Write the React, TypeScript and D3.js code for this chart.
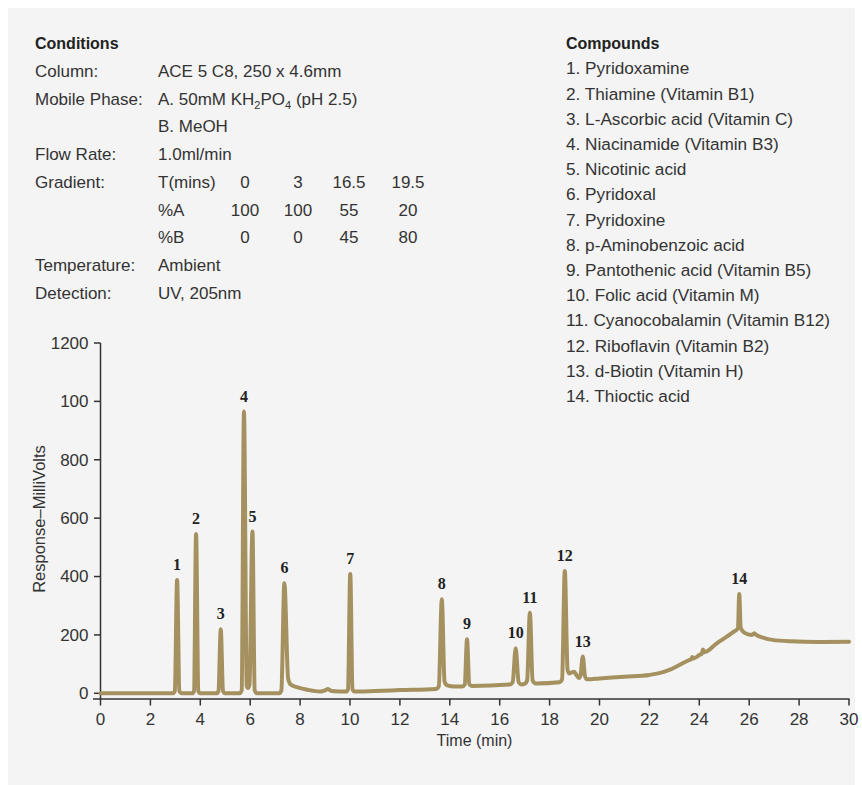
import React from "react";
import * as d3 from "d3";

const conditionLabels = ["Column:", "Mobile Phase:", "", "Flow Rate:", "Gradient:", "", "", "Temperature:", "Detection:"];
const conditionValues = ["ACE 5 C8, 250 x 4.6mm", "MOBILE", "B. MeOH", "1.0ml/min", "T(mins)", "%A", "%B", "Ambient", "UV, 205nm"];
const gradientTimes = ["0", "3", "16.5", "19.5"];
const gradientA = ["100", "100", "55", "20"];
const gradientB = ["0", "0", "45", "80"];

const compoundNames = [
  "1. Pyridoxamine",
  "2. Thiamine (Vitamin B1)",
  "3. L-Ascorbic acid (Vitamin C)",
  "4. Niacinamide (Vitamin B3)",
  "5. Nicotinic acid",
  "6. Pyridoxal",
  "7. Pyridoxine",
  "8. p-Aminobenzoic acid",
  "9. Pantothenic acid (Vitamin B5)",
  "10. Folic acid (Vitamin M)",
  "11. Cyanocobalamin (Vitamin B12)",
  "12. Riboflavin (Vitamin B2)",
  "13. d-Biotin (Vitamin H)",
  "14. Thioctic acid",
];

const peakNumbers = ["1", "2", "3", "4", "5", "6", "7", "8", "9", "10", "11", "12", "13", "14"];
const peakTimes = [3.07, 3.83, 4.82, 5.75, 6.09, 7.37, 10.01, 13.68, 14.69, 16.64, 17.21, 18.61, 19.33, 25.6];
const peakHeights = [388, 546, 219, 965, 554, 377, 409, 322, 185, 154, 276, 419, 126, 340];

const traceTimes = [
  0, 2.9, 2.98, 3.07, 3.16, 3.25,
  3.68, 3.75, 3.83, 3.92, 4.0,
  4.66, 4.73, 4.82, 4.91, 4.99,
  5.58, 5.66, 5.75, 5.86, 5.91, 5.97, 6.09, 6.18, 6.26,
  7.17, 7.25, 7.37, 7.52, 7.62, 7.9, 8.3, 8.8, 9.0, 9.12, 9.25,
  9.85, 9.92, 10.01, 10.1, 10.18, 11.0, 12.0,
  13.45, 13.56, 13.68, 13.79, 13.9, 14.2, 14.5,
  14.6, 14.69, 14.78, 14.88, 16.4,
  16.52, 16.64, 16.76, 16.88, 17.0, 17.1, 17.21, 17.32, 17.45, 18.4,
  18.5, 18.61, 18.72, 18.78, 18.9, 18.98, 19.08, 19.17, 19.24, 19.33, 19.42, 19.5,
  20.0, 21.0, 22.0, 22.4, 22.8, 23.2, 23.6, 23.68, 23.72, 23.76, 24.0, 24.1, 24.15, 24.2,
  24.7, 25.1, 25.4, 25.55, 25.6, 25.66, 25.8, 26.1, 26.2, 26.3, 26.55, 26.93, 27.7, 28.7, 30,
];
const traceValues = [
  0, 0, 8, 388, 8, 0,
  0, 8, 546, 8, 0,
  0, 8, 219, 8, 0,
  0, 10, 965, 25, 18, 30, 554, 10, 0,
  0, 10, 377, 50, 30, 20, 12, 6, 10, 15, 8,
  6, 14, 409, 14, 6, 8, 11,
  15, 24, 322, 40, 27, 23, 23,
  30, 185, 32, 25, 30,
  38, 154, 38, 30, 32, 44, 276, 44, 34, 38,
  48, 419, 80, 68, 72, 74, 62, 52, 62, 126, 58, 48,
  51, 57, 63, 69, 80, 97, 114, 117, 124, 119, 131, 136, 150, 141,
  171, 194, 212, 222, 340, 224, 208, 200, 206, 199, 191, 183, 178, 176, 177,
];

const xTicks = [0, 2, 4, 6, 8, 10, 12, 14, 16, 18, 20, 22, 24, 26, 28, 30];
const yTicks = [0, 200, 400, 600, 800, 1000, 1200];
const yTickLabels = ["0", "200", "400", "600", "800", "100", "1200"];

const TEXT = "#333333";
const LINE = "#a5915f";
const SANS = "'Liberation Sans', Arial, sans-serif";

export default function App() {
  const x = d3.scaleLinear().domain([0, 30]).range([100.5, 849]);
  const y = d3.scaleLinear().domain([0, 1200]).range([693.3, 343]);
  const axisY = 699;

  const pts: [number, number][] = traceTimes.map((t, i) => [t, traceValues[i]]);
  const line = d3
    .line<[number, number]>()
    .x((d) => x(d[0]))
    .y((d) => y(d[1]))
    .curve(d3.curveMonotoneX);

  const rowY = (i: number) => 77 + 27.7 * i;
  const gradCols = [245, 298, 349, 408];

  return (
    <svg
      width={862}
      height={785}
      style={{ position: "absolute", left: 0, top: 0 }}
      fontFamily={SANS}
    >
      <rect x={8} y={8} width={847} height={777} fill="#f3f4f3" />

      {/* Conditions */}
      <text x={35} y={49} fontSize={16} fontWeight="bold" fill="#222">Conditions</text>
      {conditionLabels.map((l, i) => (
        <text key={"cl" + i} x={35} y={rowY(i)} fontSize={17} fill={TEXT}>{l}</text>
      ))}
      {conditionValues.map((v, i) =>
        v === "MOBILE" ? (
          <text key={"cv" + i} x={158} y={rowY(i)} fontSize={17} fill={TEXT}>
            A. 50mM KH<tspan fontSize={11} dy={4}>2</tspan>
            <tspan dy={-4}>PO</tspan>
            <tspan fontSize={11} dy={4}>4</tspan>
            <tspan dy={-4}> (pH 2.5)</tspan>
          </text>
        ) : (
          <text key={"cv" + i} x={158} y={rowY(i)} fontSize={17} fill={TEXT}>{v}</text>
        )
      )}
      {[gradientTimes, gradientA, gradientB].map((row, r) =>
        row.map((v, c) => (
          <text key={"g" + r + c} x={gradCols[c]} y={rowY(4 + r)} fontSize={17} fill={TEXT} textAnchor="middle">
            {v}
          </text>
        ))
      )}

      {/* Compounds */}
      <text x={566} y={49} fontSize={16} fontWeight="bold" fill="#222">Compounds</text>
      {compoundNames.map((c, i) => (
        <text key={"c" + i} x={566} y={74.3 + 25.2 * i} fontSize={17.2} fill={TEXT}>{c}</text>
      ))}

      {/* Axes */}
      <line x1={100.5} x2={100.5} y1={343} y2={axisY} stroke="#333" strokeWidth={1.5} />
      <line x1={93} x2={849.5} y1={axisY} y2={axisY} stroke="#333" strokeWidth={1.5} />
      {yTicks.map((t, i) => (
        <g key={"yt" + i}>
          <line x1={94} x2={100.5} y1={y(t)} y2={y(t)} stroke="#333" strokeWidth={1.5} />
          <text x={88.5} y={y(t)} dy="0.35em" fontSize={17} fill={TEXT} textAnchor="end">
            {yTickLabels[i]}
          </text>
        </g>
      ))}
      {xTicks.map((t) => (
        <g key={"xt" + t}>
          <line x1={x(t)} x2={x(t)} y1={axisY} y2={705.5} stroke="#333" strokeWidth={1.5} />
          <text x={x(t)} y={725} fontSize={17} fill={TEXT} textAnchor="middle">{t}</text>
        </g>
      ))}
      <text x={474.5} y={745.5} fontSize={16} fill={TEXT} textAnchor="middle">Time (min)</text>
      <text
        transform={`translate(44.5,519) rotate(-90)`}
        fontSize={16.5}
        fill={TEXT}
        textAnchor="middle"
      >
        Response–MilliVolts
      </text>

      {/* Trace */}
      <path d={line(pts) || ""} fill="none" stroke={LINE} strokeWidth={4} strokeLinejoin="round" strokeLinecap="round" />

      {/* Peak labels */}
      {peakNumbers.map((n, i) => (
        <text
          key={"p" + i}
          x={x(peakTimes[i])}
          y={y(peakHeights[i]) - 10}
          fontSize={16}
          fontWeight="bold"
          fontFamily="'Liberation Serif', 'DejaVu Serif', serif"
          fill="#222"
          textAnchor="middle"
        >
          {n}
        </text>
      ))}
    </svg>
  );
}
